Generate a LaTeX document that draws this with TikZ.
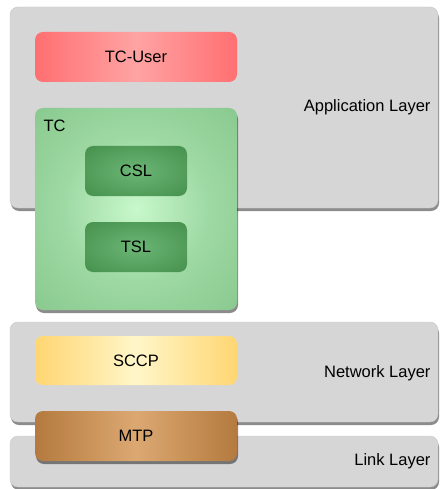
\documentclass[tikz,border=0pt]{standalone}
\usepackage{fontspec}
\setmainfont{Liberation Sans}
\usetikzlibrary{shadows}
\definecolor{layergray}{HTML}{D6D6D6}
\definecolor{layerline}{HTML}{C8C8C8}
\definecolor{userred}{HTML}{FF6F72}
\definecolor{userlight}{HTML}{FFA3A3}
\definecolor{tclight}{HTML}{C8F8CC}
\definecolor{tcquarter}{HTML}{9ED9A3}
\definecolor{tcmid}{HTML}{86C78C}
\definecolor{tcdark}{HTML}{6CAC73}
\definecolor{sublight}{HTML}{6CB676}
\definecolor{submid}{HTML}{47914E}
\definecolor{subdark}{HTML}{3A8444}
\definecolor{sccplight}{HTML}{FFF6C8}
\definecolor{sccpdark}{HTML}{FFD672}
\definecolor{mtplight}{HTML}{DCA872}
\definecolor{mtpdark}{HTML}{B47A3E}
\pgfdeclareradialshading{tcshade}{\pgfpoint{0bp}{0bp}}{color(0bp)=(tclight); color(18bp)=(tcquarter); color(38bp)=(tcmid); color(60bp)=(tcdark); color(71bp)=(tcdark)}
\pgfdeclareradialshading{subshade}{\pgfpoint{0bp}{0bp}}{color(0bp)=(sublight); color(35bp)=(submid); color(60bp)=(subdark); color(71bp)=(subdark)}
\begin{document}
\begin{tikzpicture}[x = 1pt, y = -1pt, font = \fontsize{16.5}{18}\selectfont,
  layer/.style = {rounded corners = 8pt, fill = layergray, draw = layerline, inner sep = 0pt,
    drop shadow = {shadow xshift = 1pt, shadow yshift = -3pt, opacity = .45, fill = black}},
  block/.style = {rounded corners = 8pt, inner sep = 0pt, minimum width = 202pt, minimum height = 50pt},
  sub/.style = {block, minimum width = 102pt, shading = subshade}]
\useasboundingbox (0,0) rectangle (440,489);
% application layer
\node (AL) [layer, minimum width = 428pt, minimum height = 201pt] at (224,107.5) {};
\node (ALtext) [anchor = east] at (434,107) {Application Layer};
\node (TCU) [block, left color = userred, right color = userred, middle color = userlight] at (136,57) {TC-User};
\node (TC) [block, minimum height = 202pt, shading = tcshade,
  drop shadow = {shadow xshift = 1pt, shadow yshift = -3pt, opacity = .45, fill = black}] at (136,209) {};
\node (TCtext) [anchor = west] at (40,126) {TC};
\node (CSL) [sub] at (136,171) {CSL};
\node (TSL) [sub] at (136,247) {TSL};
% network layer
\node (NL) [layer, minimum width = 428pt, minimum height = 100pt] at (224,372) {};
\node (NLtext) [anchor = east] at (434,373) {Network Layer};
\node (SCCP) [block, minimum height = 49pt, left color = sccpdark, right color = sccpdark, middle color = sccplight] at (136,360.5) {SCCP};
% link layer
\node (LL) [layer, minimum width = 428pt, minimum height = 51pt] at (224,461.5) {};
\node (LLtext) [anchor = east] at (434,461) {Link Layer};
\node (MTP) [block, left color = mtpdark, right color = mtpdark, middle color = mtplight,
  drop shadow = {shadow xshift = 1pt, shadow yshift = -3pt, opacity = .45, fill = black}] at (136,436) {MTP};
\end{tikzpicture}
\end{document}
